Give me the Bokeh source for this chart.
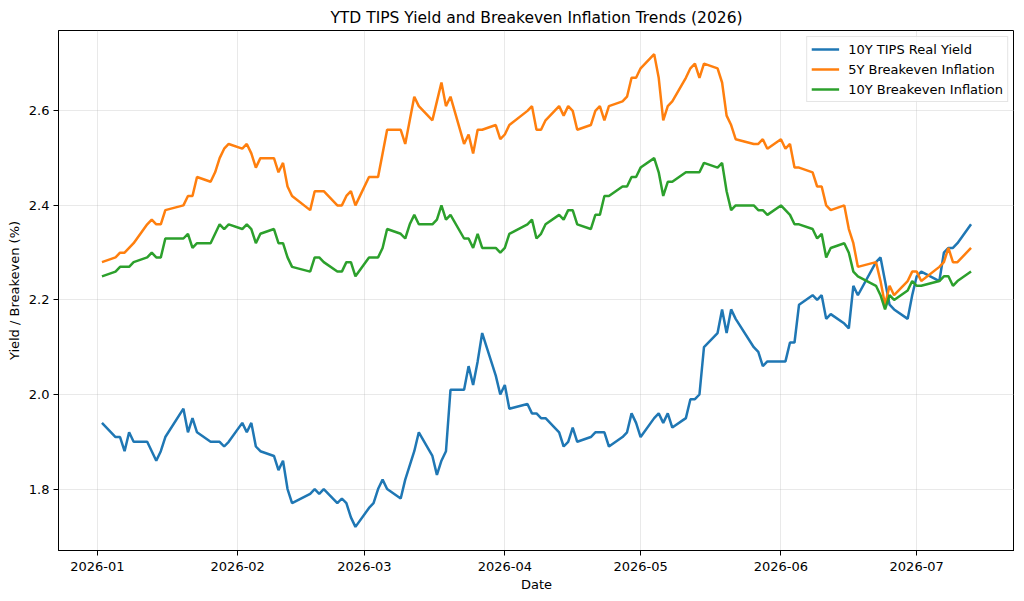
import pandas as pd
from bokeh.plotting import figure
from bokeh.models import (FixedTicker, DatetimeTickFormatter, PrintfTickFormatter,
                          Range1d, Legend, LegendItem)
from bokeh.embed import file_html
from bokeh.resources import INLINE

# ---------------- data ----------------
holidays = ["2026-01-19", "2026-02-16", "2026-04-03", "2026-05-25", "2026-06-19", "2026-07-03"]
dates = pd.bdate_range("2026-01-02", "2026-07-13", freq="C", holidays=holidays)

tips_real_yield = [
    # Jan
    1.94, 1.91, 1.91, 1.88, 1.92, 1.90, 1.90, 1.88, 1.86, 1.88, 1.91, 1.97, 1.92, 1.95, 1.92, 1.90, 1.90, 1.90, 1.89, 1.90,
    # Feb
    1.94, 1.92, 1.94, 1.89, 1.88, 1.87, 1.84, 1.86, 1.80, 1.77, 1.79, 1.80, 1.79, 1.80, 1.77, 1.78, 1.77, 1.74, 1.72,
    # Mar
    1.76, 1.77, 1.80, 1.82, 1.80, 1.78, 1.82, 1.85, 1.88, 1.92, 1.87, 1.83, 1.86, 1.88, 2.01, 2.01, 2.06, 2.02, 2.07, 2.13, 2.04, 2.00,
    # Apr
    2.02, 1.97, 1.98, 1.96, 1.96, 1.95, 1.95, 1.92, 1.89, 1.90, 1.93, 1.90, 1.91, 1.92, 1.92, 1.92, 1.89, 1.91, 1.92, 1.96, 1.94,
    # May
    1.91, 1.95, 1.96, 1.94, 1.96, 1.93, 1.95, 1.99, 1.99, 2.00, 2.10, 2.13, 2.18, 2.13, 2.18, 2.16, 2.10, 2.09, 2.06, 2.07,
    # Jun
    2.07, 2.07, 2.11, 2.11, 2.19, 2.21, 2.20, 2.21, 2.16, 2.17, 2.15, 2.14, 2.23, 2.21, 2.28, 2.29, 2.24, 2.19, 2.18, 2.16, 2.21,
    # Jul
    2.25, 2.26, 2.24, 2.30, 2.31, 2.31, 2.32, 2.36,
]

be_5y = [
    2.28, 2.29, 2.30, 2.30, 2.31, 2.32, 2.36, 2.37, 2.36, 2.36, 2.39, 2.40, 2.42, 2.42, 2.46, 2.45, 2.47, 2.50, 2.52, 2.53,
    2.52, 2.53, 2.51, 2.48, 2.50, 2.50, 2.47, 2.49, 2.44, 2.42, 2.39, 2.43, 2.43, 2.43, 2.40, 2.40, 2.42, 2.43, 2.40,
    2.46, 2.46, 2.46, 2.51, 2.56, 2.56, 2.53, 2.58, 2.63, 2.61, 2.58, 2.62, 2.66, 2.61, 2.63, 2.53, 2.55, 2.51, 2.56, 2.56, 2.57, 2.54,
    2.55, 2.57, 2.60, 2.61, 2.56, 2.56, 2.58, 2.61, 2.59, 2.61, 2.60, 2.56, 2.57, 2.60, 2.61, 2.58, 2.61, 2.62, 2.63, 2.67, 2.67,
    2.69, 2.72, 2.67, 2.58, 2.61, 2.62, 2.67, 2.69, 2.70, 2.67, 2.70, 2.69, 2.66, 2.59, 2.57, 2.54, 2.53, 2.53, 2.54, 2.52,
    2.54, 2.52, 2.53, 2.48, 2.48, 2.47, 2.44, 2.44, 2.40, 2.39, 2.40, 2.35, 2.32, 2.27, 2.28, 2.24, 2.19, 2.23, 2.21, 2.24, 2.26,
    2.26, 2.24, 2.27, 2.28, 2.31, 2.28, 2.28, 2.31,
]

be_10y = [
    2.25, 2.26, 2.27, 2.27, 2.27, 2.28, 2.29, 2.30, 2.29, 2.29, 2.33, 2.33, 2.34, 2.31, 2.32, 2.32, 2.34, 2.36, 2.35, 2.36,
    2.35, 2.36, 2.35, 2.32, 2.34, 2.35, 2.32, 2.32, 2.29, 2.27, 2.26, 2.29, 2.29, 2.28, 2.26, 2.26, 2.28, 2.28, 2.25,
    2.29, 2.29, 2.29, 2.31, 2.35, 2.34, 2.33, 2.36, 2.38, 2.36, 2.36, 2.37, 2.40, 2.37, 2.38, 2.33, 2.33, 2.31, 2.34, 2.31, 2.31, 2.30,
    2.31, 2.34, 2.36, 2.37, 2.33, 2.34, 2.36, 2.38, 2.37, 2.39, 2.39, 2.36, 2.35, 2.38, 2.38, 2.42, 2.42, 2.44, 2.44, 2.46, 2.46,
    2.48, 2.50, 2.47, 2.42, 2.45, 2.45, 2.47, 2.47, 2.47, 2.47, 2.49, 2.48, 2.49, 2.43, 2.39, 2.40, 2.40, 2.39, 2.39, 2.38,
    2.40, 2.39, 2.38, 2.36, 2.36, 2.35, 2.33, 2.34, 2.29, 2.31, 2.32, 2.30, 2.26, 2.25, 2.23, 2.21, 2.18, 2.21, 2.20, 2.22, 2.24,
    2.23, 2.23, 2.24, 2.25, 2.25, 2.23, 2.24, 2.26,
]

series_names = ["10Y TIPS Real Yield", "5Y Breakeven Inflation", "10Y Breakeven Inflation"]
series_colors = ["#1f77b4", "#ff7f0e", "#2ca02c"]
month_ticks = ["2026-01-01", "2026-02-01", "2026-03-01", "2026-04-01",
               "2026-05-01", "2026-06-01", "2026-07-01"]
y_ticks = [1.8, 2.0, 2.2, 2.4, 2.6]

# ---------------- figure ----------------
FONT = "DejaVu Sans"
xs = dates.values
x_first = dates[0].timestamp() * 1000.0
x_last = dates[-1].timestamp() * 1000.0
xpad = (x_last - x_first) * 0.05
all_y = tips_real_yield + be_5y + be_10y
ymin, ymax = min(all_y), max(all_y)
ypad = (ymax - ymin) * 0.05

p = figure(x_axis_type="datetime", frame_width=956, frame_height=520,
           output_backend="svg", toolbar_location=None,
           x_range=Range1d(x_first - xpad, x_last + xpad),
           y_range=Range1d(ymin - ypad, ymax + ypad),
           min_border_left=58, min_border_right=0, min_border_top=30, min_border_bottom=38)

p.title.text = "YTD TIPS Yield and Breakeven Inflation Trends (2026)"
p.title.align = "center"
p.title.text_font = FONT
p.title.text_font_size = "15.5px"
p.title.text_font_style = "normal"
p.title.text_color = "#000000"
p.title.standoff = 8

p.outline_line_color = "#000000"
p.outline_line_width = 1
p.outline_line_alpha = 1
p.background_fill_color = "white"
p.border_fill_color = "white"

renderers = []
for vals, name, col in zip([tips_real_yield, be_5y, be_10y], series_names, series_colors):
    r = p.line(xs, vals, line_color=col, line_width=2.5)
    renderers.append(r)

for g in (p.xgrid, p.ygrid):
    g.grid_line_color = "#b0b0b0"
    g.grid_line_alpha = 0.35
    g.grid_line_width = 0.8

p.xaxis.ticker = FixedTicker(ticks=[pd.Timestamp(t).timestamp() * 1000.0 for t in month_ticks])
fmt = "%Y-%m"
p.xaxis.formatter = DatetimeTickFormatter(microseconds=fmt, milliseconds=fmt, seconds=fmt,
                                          minsec=fmt, minutes=fmt, hourmin=fmt, hours=fmt,
                                          days=fmt, months=fmt, years=fmt)
p.yaxis.ticker = FixedTicker(ticks=y_ticks)
p.yaxis.formatter = PrintfTickFormatter(format="%.1f")

p.xaxis.axis_label = "Date"
p.yaxis.axis_label = "Yield / Breakeven (%)"
for ax in (p.xaxis, p.yaxis):
    ax.axis_label_text_font = FONT
    ax.axis_label_text_font_size = "13px"
    ax.axis_label_text_font_style = "normal"
    ax.axis_label_text_color = "#000000"
    ax.axis_label_standoff = 4
    ax.major_label_text_font = FONT
    ax.major_label_text_font_size = "13px"
    ax.major_label_text_color = "#000000"
    ax.major_label_standoff = 4
    ax.axis_line_color = "#000000"
    ax.major_tick_line_color = "#000000"
    ax.major_tick_out = 5
    ax.major_tick_in = 0
    ax.minor_tick_out = 0
    ax.minor_tick_in = 0
p.xaxis.major_label_standoff = 6
p.xaxis.axis_label_standoff = 3

legend = Legend(items=[LegendItem(label=n, renderers=[r]) for n, r in zip(series_names, renderers)],
                location="top_right")
legend.label_text_font = FONT
legend.label_text_font_size = "13px"
legend.label_text_color = "#000000"
legend.border_line_color = "#cccccc"
legend.border_line_width = 1
legend.background_fill_color = "white"
legend.background_fill_alpha = 0.8
legend.margin = 6
legend.padding = 4
legend.spacing = 4
legend.label_height = 16
legend.glyph_height = 16
legend.glyph_width = 28
legend.label_standoff = 9
p.add_layout(legend)

open("out.html", "w").write(file_html(p, INLINE))
